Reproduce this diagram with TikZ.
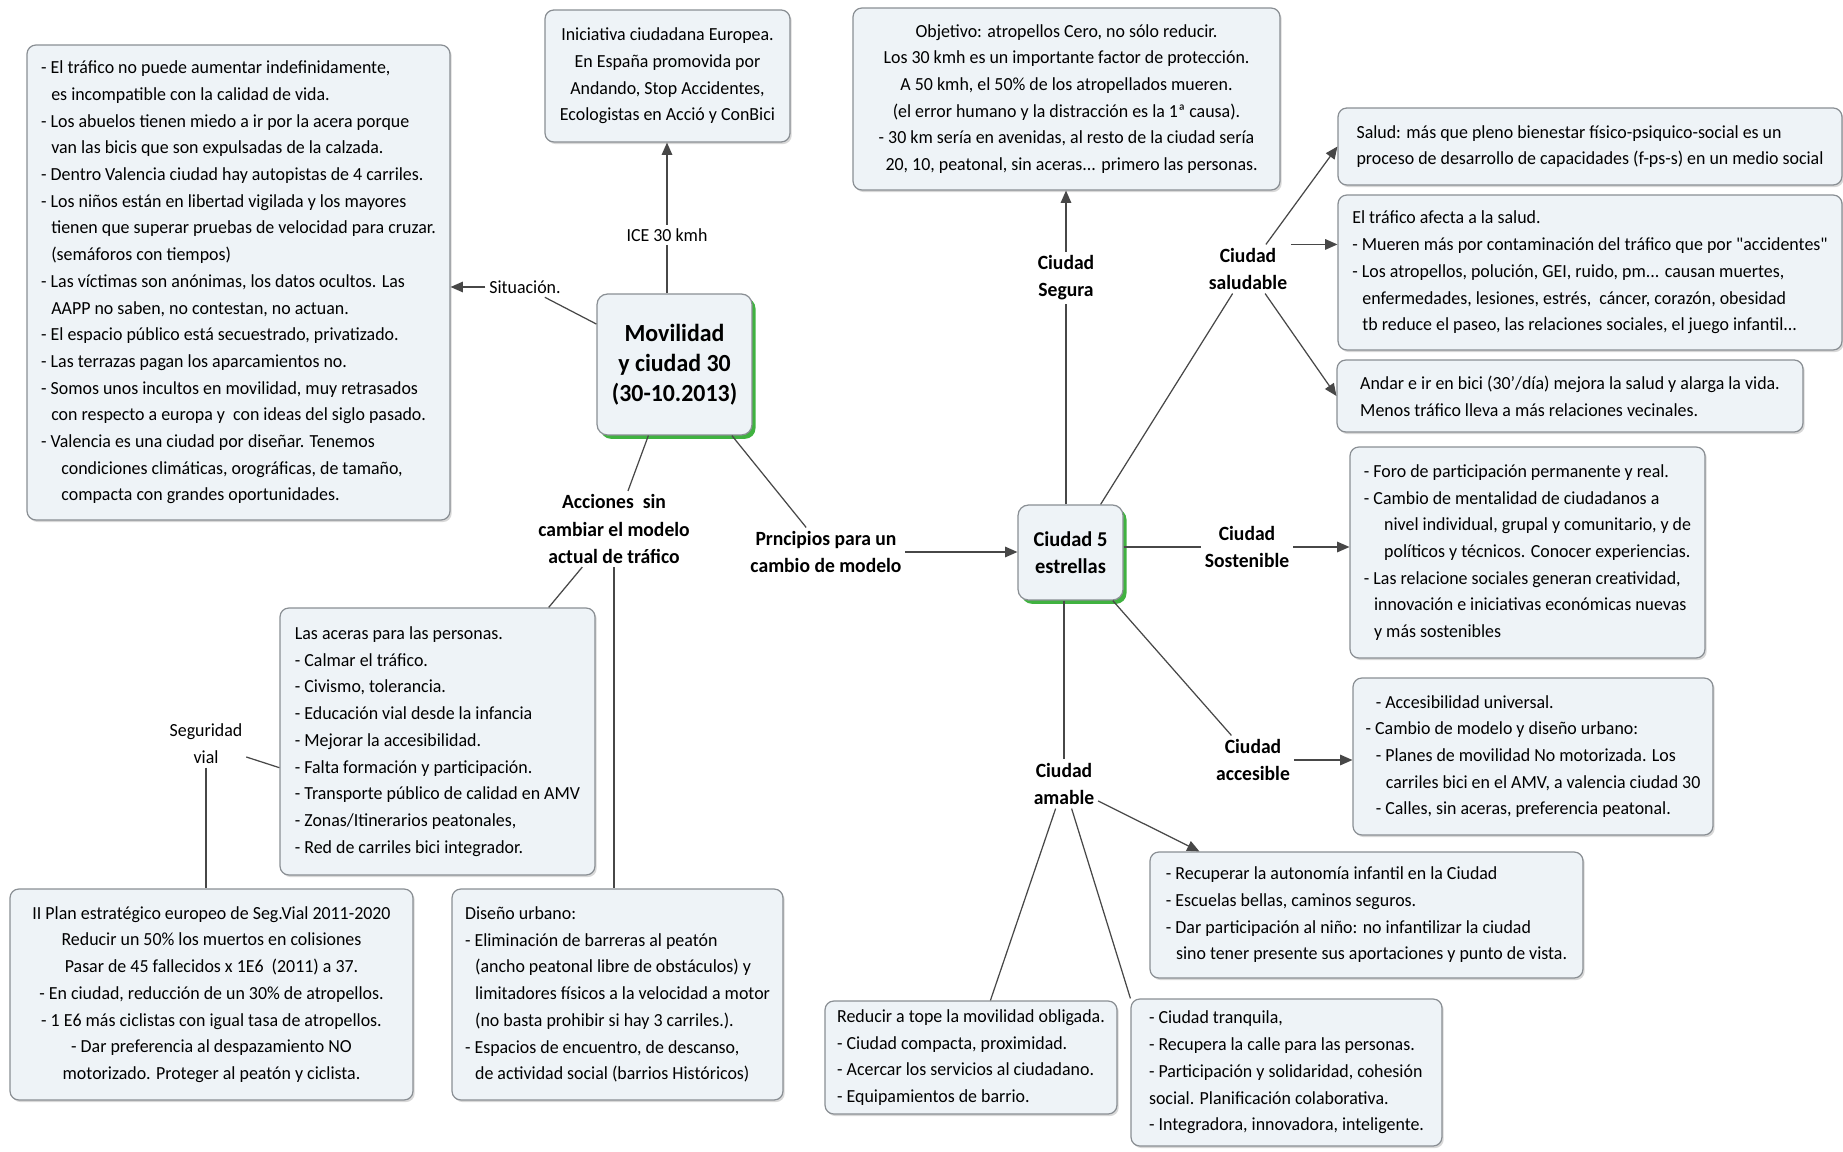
\documentclass[tikz,border=0pt]{standalone}
\usepackage{fontspec}
\setmainfont{Carlito}[FakeStretch=0.97]
\newfontface\rawq{Carlito}[FakeStretch=0.97, Ligatures=TeXOff]
\usepackage{tikz}
\usetikzlibrary{positioning, arrows.meta, shadows}

\definecolor{boxfill}{HTML}{EEF3F7}
\definecolor{boxline}{HTML}{8A8F94}
\definecolor{linkline}{HTML}{474747}
\newcommand{\ind}{\hspace*{0.55em}}

\begin{document}
\begin{tikzpicture}[x=0.02cm, y=-0.02cm,
  concept/.style={draw=boxline, fill=boxfill, rounded corners=5pt, line width=0.7pt, align=left,
    inner xsep=3pt, inner ysep=4pt,
    font=\fontsize{10.5}{15.2}\selectfont, drop shadow={opacity=0.3, shadow xshift=1pt, shadow yshift=-1.2pt}},
  hub/.style={draw=boxline, fill=boxfill, rounded corners=6pt, line width=0.7pt, align=center,
    font=\bfseries\fontsize{14}{17}\selectfont,
    drop shadow={fill=green!60!black, opacity=0.75, shadow xshift=2pt, shadow yshift=-2.2pt}},
  link/.style={align=center, inner sep=2pt, font=\fontsize{10.5}{15.2}\selectfont},
  blink/.style={link, font=\bfseries\fontsize{11.5}{15.4}\selectfont},
  con/.style={draw=linkline, line width=0.7pt},
  arr/.style={con, -{Triangle[length=7pt, width=6pt]}}]

  \fill[white] (0,0) rectangle (1843,1152);
  \useasboundingbox (0,0) rectangle (1843,1152);

  % central concepts
  \node[hub, minimum width=3.1cm, minimum height=2.82cm] (movil) at (674.5,364.5)
    {Movilidad\\y ciudad 30\\(30-10.2013)};
  \node[hub, font=\bfseries\fontsize{12}{15.4}\selectfont, minimum width=2.1cm, minimum height=1.9cm] (c5) at (1070.5,552.5)
    {Ciudad 5\\estrellas};

  % left side
  \node[concept, minimum width=8.46cm, minimum height=9.5cm] (sit) at (238.5,282.5)
    {- El tráfico no puede aumentar indefinidamente,\\
     \ind es incompatible con la calidad de vida.\\
     - Los abuelos tienen miedo a ir por la acera porque\\
     \ind van las bicis que son expulsadas de la calzada.\\
     - Dentro Valencia ciudad hay autopistas de 4 carriles.\\
     - Los niños están en libertad vigilada y los mayores\\
     \ind tienen que superar pruebas de velocidad para cruzar.\\
     \ind (semáforos con tiempos)\\
     - Las víctimas son anónimas, los datos ocultos. Las\\
     \ind AAPP no saben, no contestan, no actuan.\\
     - El espacio público está secuestrado, privatizado.\\
     - Las terrazas pagan los aparcamientos no.\\
     - Somos unos incultos en movilidad, muy retrasados\\
     \ind con respecto a europa y \ con ideas del siglo pasado.\\
     - Valencia es una ciudad por diseñar. Tenemos\\
     \ind\ind condiciones climáticas, orográficas, de tamaño,\\
     \ind\ind compacta con grandes oportunidades.};
  \node[concept, align=center, minimum width=4.9cm, minimum height=2.64cm] (inic) at (667.5,76)
    {Iniciativa ciudadana Europea.\\En España promovida por\\Andando, Stop Accidentes,\\Ecologistas en Acció y ConBici};
  \node[concept, minimum width=6.3cm, minimum height=5.34cm] (aceras) at (437.5,741.5)
    {Las aceras para las personas.\\
     - Calmar el tráfico.\\
     - Civismo, tolerancia.\\
     - Educación vial desde la infancia\\
     - Mejorar la accesibilidad.\\
     - Falta formación y participación.\\
     - Transporte público de calidad en AMV\\
     - Zonas/Itinerarios peatonales,\\
     - Red de carriles bici integrador.};
  \node[concept, align=center, minimum width=8.06cm, minimum height=4.22cm] (plan) at (211.5,994.5)
    {II Plan estratégico europeo de Seg.Vial 2011-2020\\
     Reducir un 50\% los muertos en colisiones\\
     Pasar de 45 fallecidos x 1E6 \ (2011) a 37.\\
     - En ciudad, reducción de un 30\% de atropellos.\\
     - 1 E6 más ciclistas con igual tasa de atropellos.\\
     - Dar preferencia al despazamiento NO\\
     motorizado. Proteger al peatón y ciclista.};
  \node[concept, minimum width=6.62cm, minimum height=4.22cm] (diseno) at (617.5,994.5)
    {Diseño urbano:\\
     - Eliminación de barreras al peatón\\
     \ind (ancho peatonal libre de obstáculos) y\\
     \ind limitadores físicos a la velocidad a motor\\
     \ind (no basta prohibir si hay 3 carriles.).\\
     - Espacios de encuentro, de descanso,\\
     \ind de actividad social (barrios Históricos)};

  % right side
  \node[concept, align=center, minimum width=8.54cm, minimum height=3.64cm] (obj) at (1066.5,99)
    {Objetivo: atropellos Cero, no sólo reducir.\\
     Los 30 kmh es un importante factor de protección.\\
     A 50 kmh, el 50\% de los atropellados mueren.\\
     (el error humano y la distracción es la 1ª causa).\\
     - 30 km sería en avenidas, al resto de la ciudad sería\\
     \ind 20, 10, peatonal, sin aceras... primero las personas.};
  \node[concept, minimum width=10.08cm, minimum height=1.54cm] (salud) at (1590,146.5)
    {Salud: más que pleno bienestar físico-psiquico-social es un\\
     proceso de desarrollo de capacidades (f-ps-s) en un medio social};
  \node[concept, minimum width=10.08cm, minimum height=3.1cm] (trafico) at (1590,272.5)
    {El tráfico afecta a la salud.\\
     - Mueren más por contaminación del tráfico que por {\rawq"}accidentes{\rawq"}\\
     - Los atropellos, polución, GEI, ruido, pm... causan muertes,\\
     \ind enfermedades, lesiones, estrés, \ cáncer, corazón, obesidad\\
     \ind tb reduce el paseo, las relaciones sociales, el juego infantil...};
  \node[concept, minimum width=9.32cm, minimum height=1.44cm] (andar) at (1570,396)
    {Andar e ir en bici (30'/día) mejora la salud y alarga la vida.\\
     Menos tráfico lleva a más relaciones vecinales.};
  \node[concept, minimum width=7.1cm, minimum height=4.22cm] (foro) at (1527.5,552.5)
    {- Foro de participación permanente y real.\\
     - Cambio de mentalidad de ciudadanos a\\
     \ind\ind nivel individual, grupal y comunitario, y de\\
     \ind\ind políticos y técnicos. Conocer experiencias.\\
     - Las relacione sociales generan creatividad,\\
     \ind innovación e iniciativas económicas nuevas\\
     \ind y más sostenibles};
  \node[concept, minimum width=7.2cm, minimum height=3.14cm] (acces) at (1533,756.5)
    {\ind - Accesibilidad universal.\\
     - Cambio de modelo y diseño urbano:\\
     \ind - Planes de movilidad No motorizada. Los\\
     \ind\ind carriles bici en el AMV, a valencia ciudad 30\\
     \ind - Calles, sin aceras, preferencia peatonal.};
  \node[concept, minimum width=8.66cm, minimum height=2.52cm] (recup) at (1366.5,915)
    {- Recuperar la autonomía infantil en la Ciudad\\
     - Escuelas bellas, caminos seguros.\\
     - Dar participación al niño: no infantilizar la ciudad\\
     \ind sino tener presente sus aportaciones y punto de vista.};
  \node[concept, minimum width=5.84cm, minimum height=2.26cm] (reducir) at (971,1057.5)
    {Reducir a tope la movilidad obligada.\\
     - Ciudad compacta, proximidad.\\
     - Acercar los servicios al ciudadano.\\
     - Equipamientos de barrio.};
  \node[concept, minimum width=6.22cm, minimum height=2.94cm] (tranq) at (1286.5,1072.5)
    {- Ciudad tranquila,\\
     - Recupera la calle para las personas.\\
     - Participación y solidaridad, cohesión\\
     social. Planificación colaborativa.\\
     - Integradora, innovadora, inteligente.};

  % linking phrases
  \node[link] (sitlab) at (525,287) {Situación.};
  \node[link] (icelab) at (667,235) {ICE 30 kmh};
  \node[blink] (acc) at (614,529) {Acciones \ sin\\cambiar el modelo\\actual de tráfico};
  \node[blink] (prn) at (826,552) {Prncipios para un\\cambio de modelo};
  \node[link] (segv) at (206,744) {Seguridad\\vial};
  \node[blink] (seg) at (1066,278) {Ciudad\\Segura};
  \node[blink] (sal) at (1248,269) {Ciudad\\saludable};
  \node[blink] (sost) at (1247,547) {Ciudad\\Sostenible};
  \node[blink] (acl) at (1253,760) {Ciudad\\accesible};
  \node[blink] (ama) at (1064,784) {Ciudad\\amable};

  % connectors
  \draw[con] (movil) -- (sitlab);
  \draw[arr] (sitlab) -- (sitlab -| sit.east);
  \draw[con] (movil.north -| icelab) -- (icelab);
  \draw[arr] (icelab) -- (icelab |- inic.south);
  \draw[con] (movil) -- (acc);
  \draw[con] (acc) -- (aceras);
  \draw[con] (acc) -- (acc |- diseno.north);
  \draw[con] (aceras.west |- segv.south) -- (segv);
  \draw[con] (segv) -- (segv |- plan.north);
  \draw[con] (movil) -- (prn);
  \draw[arr] (prn) -- (prn -| c5.west);

  \draw[con] (c5.north -| seg) -- (seg);
  \draw[arr] (seg) -- (seg |- obj.south);
  \draw[con] (c5) -- (sal);
  \draw[arr] (sal) -- (salud.west);
  \draw[arr] (sal.north east) -- (sal.north east -| trafico.west);
  \draw[arr] (sal) -- (andar.west);
  \draw[con] (c5.east |- sost) -- (sost);
  \draw[arr] (sost) -- (sost -| foro.west);
  \draw[con] (c5) -- (acl);
  \draw[arr] (acl) -- (acl -| acces.west);
  \draw[con] (c5.south -| ama) -- (ama);
  \draw[arr] (ama) -- ([xshift=1cm]recup.north west);
  \draw[con] (ama) -- (reducir);
  \draw[con] (ama) -- (tranq.north west);
\end{tikzpicture}
\end{document}
